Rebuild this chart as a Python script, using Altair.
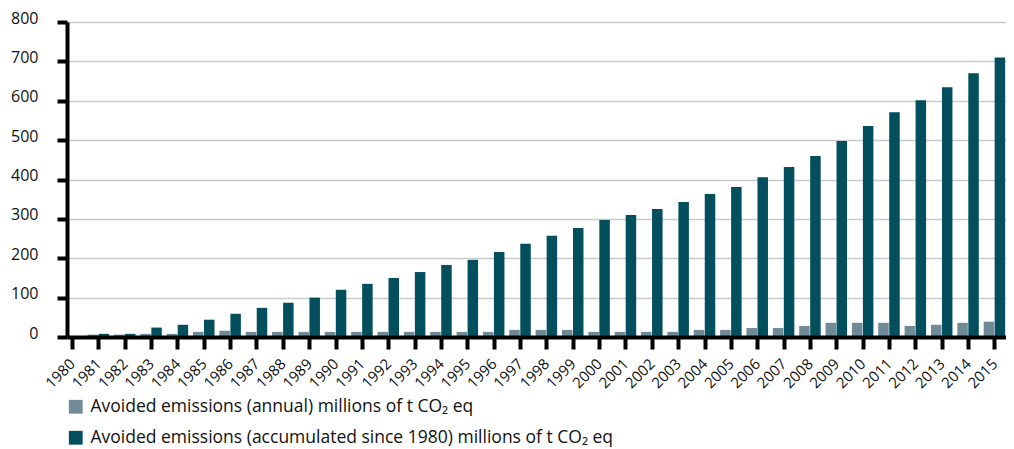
import altair as alt
import pandas as pd

years = list(range(1980, 2016))
annual = [0, 6, 6, 8, 8, 13, 16, 13, 13, 13, 13, 13, 13, 13, 13, 13, 13, 18, 18, 18,
          13, 13, 13, 13, 18, 18, 23, 23, 28, 36, 36, 36, 28, 31, 36, 39]
accumulated = [0, 8, 8, 24, 31, 44, 59, 74, 87, 100, 120, 135, 150, 165, 183, 196, 216,
               237, 257, 277, 297, 310, 325, 343, 363, 381, 406, 432, 460, 498, 536,
               571, 601, 634, 670, 710]

label_annual = "Avoided emissions (annual) millions of t CO\u2082 eq"
label_accum = "Avoided emissions (accumulated since 1980) millions of t CO\u2082 eq"
series_names = [label_annual, label_accum]
series_colors = ["#6e8b97", "#034f5e"]

rows = []
for y, a, c in zip(years, annual, accumulated):
    rows.append({"year": y, "series": label_annual, "value": a})
    rows.append({"year": y, "series": label_accum, "value": c})
df = pd.DataFrame(rows)

FONT = "Open Sans"

x_enc = alt.X(
    "year:Q",
    scale=alt.Scale(domain=[1980, 2015.25], nice=False, zero=False),
    axis=alt.Axis(
        values=years, format="d", labelAngle=-45, labelAlign="right",
        labelBaseline="middle", labelFontSize=15, labelPadding=12,
        labelOffset=0,
        labelOverlap=False, labelFlush=False, labelBound=False,
        tickSize=12, tickWidth=4, tickColor="black", domainWidth=4,
        domainColor="black", grid=False, title=None, labelColor="#111111",
        labelFont=FONT, zindex=1,
    ),
)
y_enc = alt.Y(
    "value:Q",
    scale=alt.Scale(domain=[0, 800], nice=False),
    axis=alt.Axis(
        values=list(range(0, 900, 100)), labelFontSize=16, labelPadding=19,
        labelOffset=-4, tickSize=10, tickWidth=4, tickColor="black",
        domainWidth=4, domainColor="black", grid=True, gridColor="#c9c9c9",
        gridWidth=1.5, title=None, labelColor="#111111", labelFont=FONT,
        zindex=0,
    ),
)
color_enc = alt.Color(
    "series:N",
    scale=alt.Scale(domain=series_names, range=series_colors),
    legend=alt.Legend(
        orient="none", legendX=0, legendY=376, title=None, symbolType="square",
        symbolSize=190, symbolStrokeWidth=0, labelFontSize=17.5, labelFont=FONT,
        labelColor="#111111", labelOffset=6, rowPadding=12, labelLimit=900,
        direction="vertical",
    ),
)

base = alt.Chart(df)
annual_layer = base.transform_filter(alt.datum.series == label_annual).mark_bar(
    size=10.5, xOffset=-5.5
).encode(x=x_enc, y=y_enc, color=color_enc)
accum_layer = base.transform_filter(alt.datum.series == label_accum).mark_bar(
    size=10.5, xOffset=5.5
).encode(x=x_enc, y=y_enc, color=color_enc)

chart = alt.layer(annual_layer, accum_layer).properties(
    width=939, height=315,
    autosize=alt.AutoSizeParams(type="none"),
    padding={"left": 59, "top": 14, "right": 0, "bottom": 112},
).configure_view(stroke=None)

chart.save("out.html", embed_options={"renderer": "svg", "actions": False})
